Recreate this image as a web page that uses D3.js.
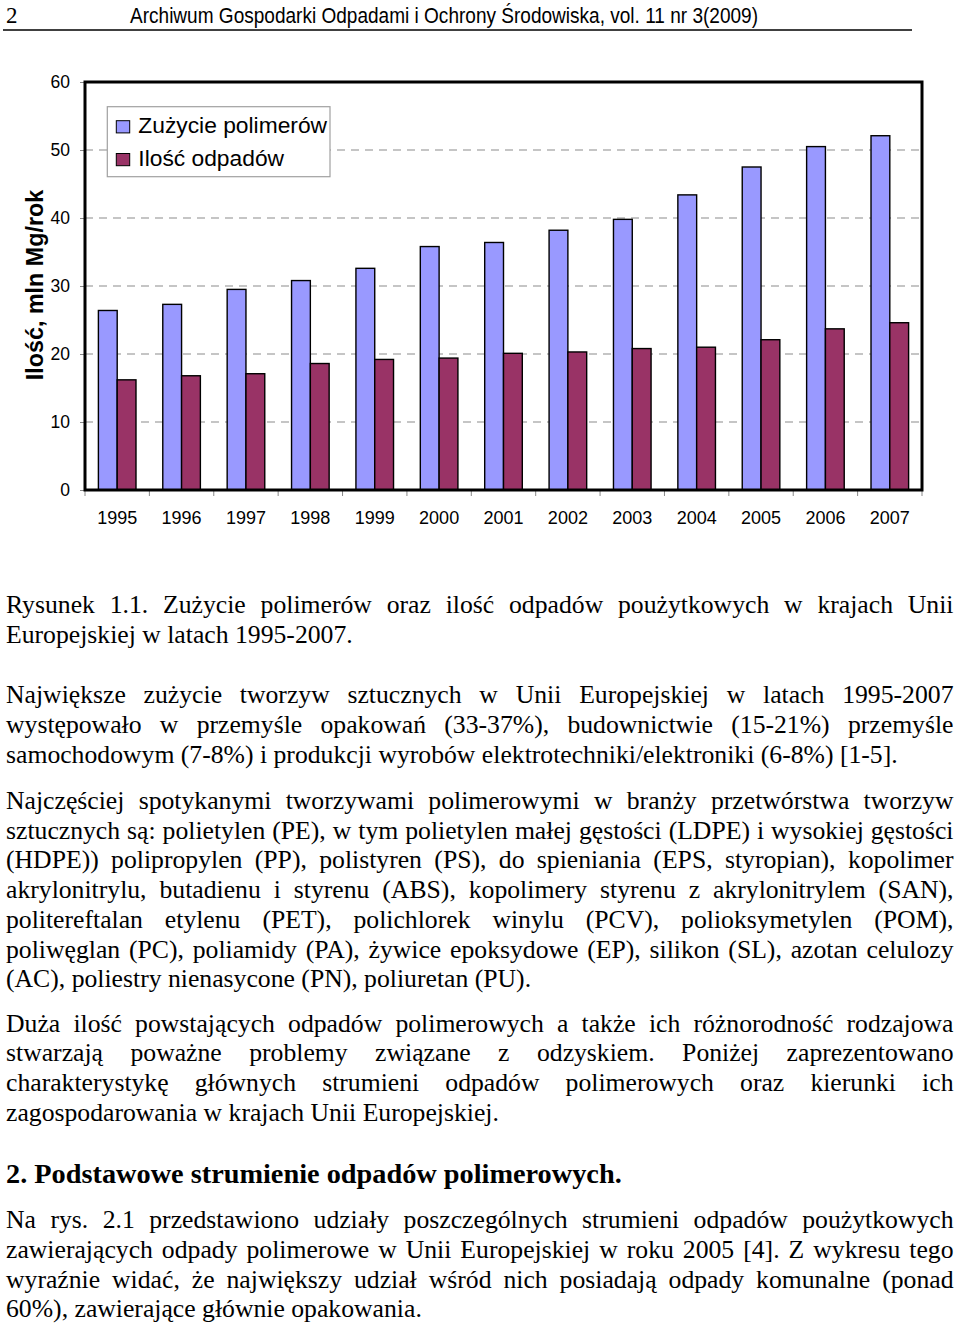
<!DOCTYPE html>
<html>
<head>
<meta charset="utf-8">
<script src="https://cdn.jsdelivr.net/npm/d3@7"></script>
<style>
  body { margin: 0; background: #fff; }
  svg { display: block; }
</style>
</head>
<body>
<svg id="page" width="960" height="1326"></svg>
<script>
// chart data
const years = ['1995', '1996', '1997', '1998', '1999', '2000', '2001',
               '2002', '2003', '2004', '2005', '2006', '2007'];
const polymerUse = [26.4, 27.3, 29.5, 30.8, 32.6, 35.8, 36.4, 38.2, 39.8, 43.4, 47.5, 50.5, 52.1];
const wasteAmount = [16.2, 16.8, 17.1, 18.6, 19.2, 19.4, 20.1, 20.3, 20.8, 21.0, 22.1, 23.7, 24.6];
const seriesNames = ['Zużycie polimerów', 'Ilość odpadów'];
const yTicks = [0, 10, 20, 30, 40, 50, 60];
const yTitle = 'Ilość, mln Mg/rok';

// page text, one entry per printed line
const headerTitle = 'Archiwum Gospodarki Odpadami i Ochrony Środowiska, vol. 11 nr 3(2009)';
const paragraphs = [
  ['Rysunek 1.1. Zużycie polimerów oraz ilość odpadów poużytkowych w krajach Unii',
   'Europejskiej w latach 1995-2007.'],
  ['Największe zużycie tworzyw sztucznych w Unii Europejskiej w latach 1995-2007',
   'występowało w przemyśle opakowań (33-37%), budownictwie (15-21%) przemyśle',
   'samochodowym (7-8%) i produkcji wyrobów elektrotechniki/elektroniki (6-8%) [1-5].'],
  ['Najczęściej spotykanymi tworzywami polimerowymi w branży przetwórstwa tworzyw',
   'sztucznych są: polietylen (PE), w tym polietylen małej gęstości (LDPE) i wysokiej gęstości',
   '(HDPE)) polipropylen (PP), polistyren (PS), do spieniania (EPS, styropian), kopolimer',
   'akrylonitrylu, butadienu i styrenu (ABS), kopolimery styrenu z akrylonitrylem (SAN),',
   'politereftalan etylenu (PET), polichlorek winylu (PCV), polioksymetylen (POM),',
   'poliwęglan (PC), poliamidy (PA), żywice epoksydowe (EP), silikon (SL), azotan celulozy',
   '(AC), poliestry nienasycone (PN), poliuretan (PU).'],
  ['Duża ilość powstających odpadów polimerowych a także ich różnorodność rodzajowa',
   'stwarzają poważne problemy związane z odzyskiem. Poniżej zaprezentowano',
   'charakterystykę głównych strumieni odpadów polimerowych oraz kierunki ich',
   'zagospodarowania w krajach Unii Europejskiej.'],
  ['2. Podstawowe strumienie odpadów polimerowych.'],
  ['Na rys. 2.1 przedstawiono udziały poszczególnych strumieni odpadów poużytkowych',
   'zawierających odpady polimerowe w Unii Europejskiej w roku 2005 [4]. Z wykresu tego',
   'wyraźnie widać, że największy udział wśród nich posiadają odpady komunalne (ponad',
   '60%), zawierające głównie opakowania.']
];
const paragraphTops = [613.3, 703.3, 809, 1031.7, 1183.3, 1228.3];

const svg = d3.select('#page');
const sans = 'Arial, "Liberation Sans", sans-serif';
const serif = '"Times New Roman", "Liberation Serif", serif';

// page header
svg.append('text')
    .attr('x', 6).attr('y', 22.7)
    .style('font-family', serif).style('font-size', '23px')
    .text('2');
svg.append('text')
    .attr('x', 130).attr('y', 22.7)
    .attr('textLength', 628).attr('lengthAdjust', 'spacingAndGlyphs')
    .style('font-family', sans).style('font-size', '21.5px')
    .text(headerTitle);
svg.append('line')
    .attr('x1', 3).attr('x2', 912).attr('y1', 30).attr('y2', 30)
    .attr('stroke', '#000').attr('stroke-width', 1.5);

// scales
const plot = { left: 85, right: 922, top: 82, bottom: 490 };
const x0 = d3.scaleBand().domain(years)
    .range([plot.left, plot.right])
    .paddingInner(0.416).paddingOuter(0.208);
const x1 = d3.scaleBand().domain([0, 1]).range([0, x0.bandwidth()]);
const y = d3.scaleLinear().domain([0, 60]).range([plot.bottom, plot.top]);
const colors = d3.scaleOrdinal().domain([0, 1]).range(['#9999FF', '#993366']);

// dashed gridlines
svg.append('g').selectAll('line')
    .data(yTicks.filter(d => d > 0 && d < 60))
    .join('line')
    .attr('x1', plot.left).attr('x2', plot.right)
    .attr('y1', d => y(d)).attr('y2', d => y(d))
    .attr('stroke', '#8c8c8c').attr('stroke-width', 1.2)
    .attr('stroke-dasharray', '8,6');

// bars
const rows = years.map((yr, i) => ({ year: yr, values: [polymerUse[i], wasteAmount[i]] }));
svg.append('g').selectAll('g')
    .data(rows)
    .join('g')
    .attr('transform', d => `translate(${x0(d.year)},0)`)
    .selectAll('rect')
    .data(d => d.values.map((v, k) => ({ k, v })))
    .join('rect')
    .attr('x', d => x1(d.k))
    .attr('width', x1.bandwidth())
    .attr('y', d => y(d.v))
    .attr('height', d => y(0) - y(d.v))
    .attr('fill', d => colors(d.k))
    .attr('stroke', '#000').attr('stroke-width', 1.4);

// y axis
const yAxis = svg.append('g')
    .attr('transform', `translate(${plot.left},0)`)
    .call(d3.axisLeft(y).tickValues(yTicks).tickSize(5).tickPadding(10));
yAxis.select('.domain').remove();
yAxis.selectAll('line').attr('stroke', '#888');
yAxis.selectAll('text')
    .style('font-family', sans).style('font-size', '17.5px').attr('fill', '#000');

// x axis: labels under category centres, ticks on category boundaries
const xAxis = svg.append('g')
    .attr('transform', `translate(0,${plot.bottom})`)
    .call(d3.axisBottom(x0).tickSize(0).tickPadding(21.5));
xAxis.select('.domain').remove();
xAxis.selectAll('text')
    .style('font-family', sans).style('font-size', '18px').attr('fill', '#000');
svg.append('g').selectAll('line')
    .data(d3.range(years.length + 1))
    .join('line')
    .attr('x1', i => x0.range()[0] + i * x0.step())
    .attr('x2', i => x0.range()[0] + i * x0.step())
    .attr('y1', plot.bottom).attr('y2', plot.bottom + 6)
    .attr('stroke', '#888');

// plot frame
svg.append('rect')
    .attr('x', plot.left).attr('y', plot.top)
    .attr('width', plot.right - plot.left).attr('height', plot.bottom - plot.top)
    .attr('fill', 'none').attr('stroke', '#000').attr('stroke-width', 3);

// y title
svg.append('text')
    .attr('transform', `translate(43,${(plot.top + plot.bottom) / 2 - 1}) rotate(-90)`)
    .attr('text-anchor', 'middle')
    .style('font-family', sans).style('font-size', '23.3px').style('font-weight', 'bold')
    .text(yTitle);

// legend
const legend = svg.append('g').attr('transform', 'translate(107.3,106.7)');
legend.append('rect')
    .attr('width', 222.7).attr('height', 70)
    .attr('fill', '#fff').attr('stroke', '#a0a0a0').attr('stroke-width', 1.2);
const item = legend.selectAll('g')
    .data(seriesNames)
    .join('g')
    .attr('transform', (d, i) => `translate(9,${14 + i * 32.8})`);
item.append('rect')
    .attr('width', 13.4).attr('height', 12.2)
    .attr('fill', (d, i) => colors(i))
    .attr('stroke', '#000').attr('stroke-width', 1);
item.append('text')
    .attr('x', 22).attr('y', 12)
    .style('font-family', sans).style('font-size', '22.8px')
    .text(d => d);

// body text, justified line by line
const textLeft = 6, textWidth = 947.5, lineGap = 29.7;
paragraphs.forEach((lines, p) => {
  const heading = lines.length === 1;
  lines.forEach((line, j) => {
    const t = svg.append('text')
        .attr('x', textLeft)
        .attr('y', paragraphTops[p] + j * lineGap)
        .style('font-family', serif)
        .style('font-size', heading ? '28.3px' : '25.7px')
        .style('font-weight', heading ? 'bold' : 'normal')
        .text(line);
    if (heading || j === lines.length - 1) return;
    const len = t.node().getComputedTextLength();
    const gaps = line.split(' ').length - 1;
    if (len <= textWidth) {
      t.style('word-spacing', ((textWidth - len) / gaps) + 'px');
    } else {
      t.attr('textLength', textWidth).attr('lengthAdjust', 'spacingAndGlyphs');
    }
  });
});
</script>
</body>
</html>
